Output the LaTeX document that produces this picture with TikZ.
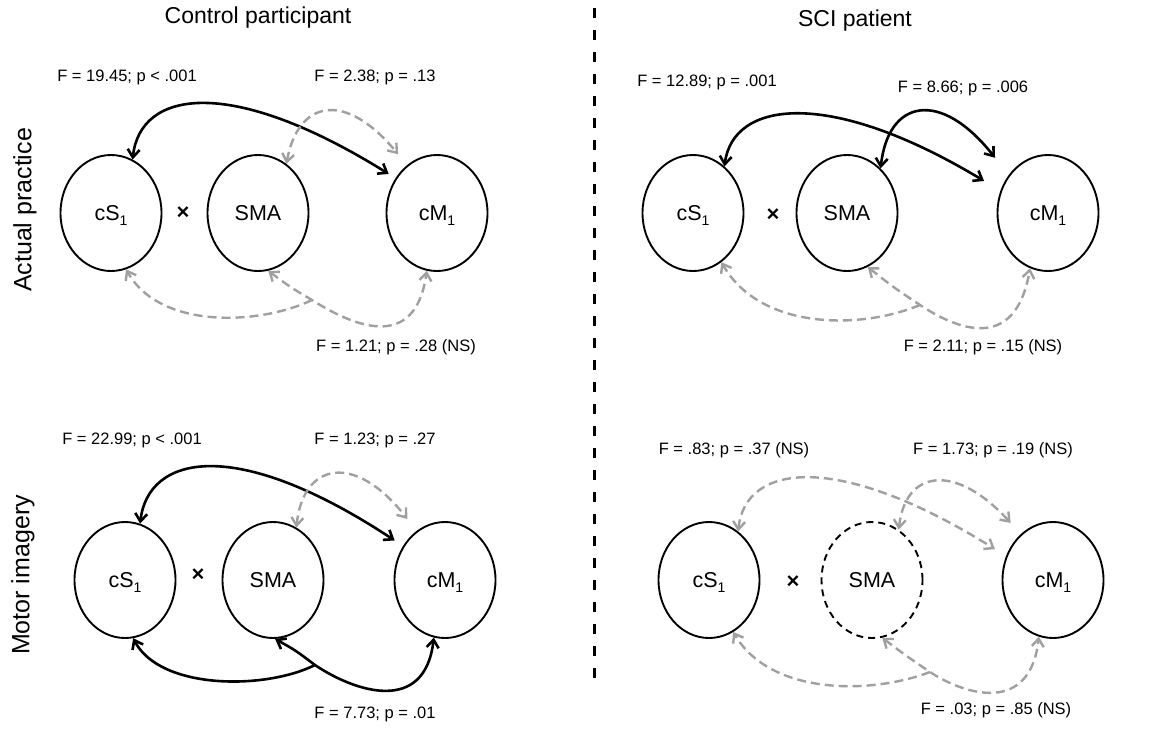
\documentclass[tikz,border=0pt]{standalone}
\usepackage{fontspec}
\setmainfont{Liberation Sans}
\usetikzlibrary{arrows.meta,shapes.geometric}
\definecolor{dgray}{RGB}{160,160,160}
\newcommand{\lowone}{\raisebox{-5pt}[0pt][0pt]{\fontsize{14}{16}\selectfont 1}}
\begin{document}
\begin{tikzpicture}[x=1pt,y=-1pt,
  mybarb/.tip={Straight Barb[length=8pt,width=12pt]},
  region/.style={ellipse,draw=black,line width=1.9pt,minimum width=101pt,minimum height=116pt,inner sep=0pt,font=\fontsize{21.5}{24}\selectfont},
  dregion/.style={region,dash pattern=on 7pt off 5pt},
  sigboth/.style={draw=black,line width=2.6pt,mybarb-mybarb},
  sigend/.style={draw=black,line width=2.6pt,-mybarb},
  nsboth/.style={draw=dgray,line width=2.4pt,dash pattern=on 9pt off 5pt,mybarb-mybarb},
  nsend/.style={draw=dgray,line width=2.4pt,dash pattern=on 9pt off 5pt,-mybarb},
  stat/.style={font=\fontsize{16.5}{19}\selectfont,inner sep=0pt},
  title/.style={font=\fontsize{23}{27}\selectfont,inner sep=0pt},
  side/.style={font=\fontsize{25}{29}\selectfont,inner sep=0pt,rotate=90},
  times/.style={font=\fontsize{22}{24}\selectfont\bfseries,inner sep=0pt}
]
\useasboundingbox (0,0) rectangle (1159,729);

% divider
\coordinate (d1) at (594,8);
\coordinate (d2) at (594,684);
\draw[line width=3pt,dash pattern=on 10pt off 12pt] (d1) -- (d2);

% titles
\node[title] (t1) at (258,18) {Control participant};
\node[title] (t2) at (855,21) {SCI patient};
\node[side] (s1) at (25,210) {Actual practice};
\node[side] (s2) at (23,575) {Motor imagery};

% ---------- top-left ----------
\node[region] (a1) at (111,213) {cS\lowone};
\node[region] (a2) at (258,213) {SMA};
\node[region] (a3) at (437,213) {cM\lowone};
\node[times] (ax) at (183,213) {×};
\node[stat] (al1) at (127,77) {F = 19.45; p < .001};
\node[stat] (al2) at (375,77) {F = 2.38; p = .13};
\node[stat] (al3) at (396,347) {F = 1.21; p = .28 (NS)};
\draw[sigboth,shorten >=8pt] (a1.68) .. controls (140,90) and (230,75) .. (a3.140);
\draw[nsboth,shorten >=14pt] (a2.60) .. controls (298,100) and (345,90) .. (a3.122);
\coordinate (aj) at (312,300);
\draw[nsboth] (a2.-80) .. controls (290,287) .. (aj) .. controls (350,324) and (415,355) .. (a3.-100);
\draw[nsend] (aj) .. controls (260,325) and (160,330) .. (a1.-75);

% ---------- top-right ----------
\node[region] (b1) at (693,213) {cS\lowone};
\node[region] (b2) at (847,213) {SMA};
\node[region] (b3) at (1048,213) {cM\lowone};
\node[times] (bx) at (773,215) {×};
\node[stat] (bl1) at (707,82) {F = 12.89; p = .001};
\node[stat] (bl2) at (963,88) {F = 8.66; p = .006};
\node[stat] (bl3) at (983,347) {F = 2.11; p = .15 (NS)};
\draw[sigboth,shorten >=19pt] (b1.56) .. controls (733,100) and (830,88) .. (b3.155);
\draw[sigboth,shorten >=22pt] (b2.53) .. controls (888,100) and (940,88) .. (b3.136);
\coordinate (bj) at (920,305);
\draw[nsboth] (b2.-69) .. controls (893,287) .. (bj) .. controls (955,328) and (1015,355) .. (b3.-108);
\draw[nsend] (bj) .. controls (860,330) and (760,330) .. (b1.-60);

% ---------- bottom-left ----------
\node[region] (c1) at (125,580) {cS\lowone};
\node[region] (c2) at (273,580) {SMA};
\node[region] (c3) at (445,580) {cM\lowone};
\node[times] (cx) at (198,575) {×};
\node[stat] (cl1) at (132,440) {F = 22.99; p < .001};
\node[stat] (cl2) at (375,440) {F = 1.23; p = .27};
\node[stat] (cl3) at (375,714) {F = 7.73; p = .01};
\draw[sigboth,shorten >=10pt] (c1.75) .. controls (148,455) and (235,435) .. (c3.141);
\draw[nsboth,shorten >=15pt] (c2.66) .. controls (303,462) and (355,452) .. (c3.120);
\coordinate (cj) at (315,665);
\draw[sigboth] (c2.-88) .. controls (295,650) .. (cj) .. controls (355,692) and (425,715) .. (c3.-101);
\draw[sigend] (cj) .. controls (265,690) and (160,690) .. (c1.-82);

% ---------- bottom-right ----------
\node[region] (e1) at (709,580) {cS\lowone};
\node[dregion] (e2) at (872,580) {SMA};
\node[region] (e3) at (1053,580) {cM\lowone};
\node[times] (ex) at (793,582) {×};
\node[stat] (el1) at (734,450) {F = .83; p = .37 (NS)};
\node[stat] (el2) at (993,450) {F = 1.73; p = .19 (NS)};
\node[stat] (el3) at (996,710) {F = .03; p = .85 (NS)};
\draw[nsboth,shorten >=13pt] (e1.59) .. controls (745,462) and (840,452) .. (e3.153);
\draw[nsboth,shorten >=15pt] (e2.62) .. controls (905,470) and (955,462) .. (e3.125);
\coordinate (ej) at (930,672);
\draw[nsboth] (e2.-80) .. controls (905,655) .. (ej) .. controls (965,695) and (1030,715) .. (e3.-104);
\draw[nsend] (ej) .. controls (870,695) and (770,695) .. (e1.-65);
\end{tikzpicture}
\end{document}
